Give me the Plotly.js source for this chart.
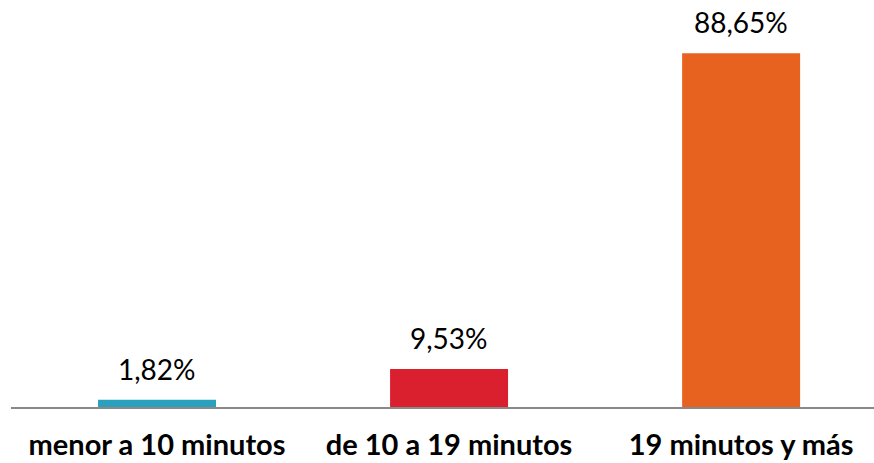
<!DOCTYPE html>
<html>
<head>
<meta charset="utf-8">
<script src="https://cdn.plot.ly/plotly-3.0.1.min.js"></script>
<style>html,body{margin:0;padding:0;background:#fff;}#chart{width:874px;height:463px;}</style>
</head>
<body>
<div id="chart"></div>
<script>
const categories = ["menor a 10 minutos", "de 10 a 19 minutos", "19 minutos y más"];
const values = [1.82, 9.53, 88.65];
const barColors = ["#2B9FBE", "#DA1F2E", "#E8621F"];

const labels = values.map(v => v.toFixed(2).replace('.', ',') + '%');

const trace = {
  type: 'bar',
  x: categories,
  y: values,
  marker: {color: barColors},
  width: 0.404,
  hoverinfo: 'none'
};

const annotations = categories.map((c, i) => ({
  x: c, y: values[i], xref: 'x', yref: 'y',
  text: labels[i], showarrow: false,
  yanchor: 'bottom', yshift: 12,
  font: {family: 'Lato, sans-serif', size: 28, color: '#000'}
}));

const layout = {
  width: 874, height: 463,
  margin: {l: 11, r: 0, t: 10, b: 56},
  paper_bgcolor: '#fff', plot_bgcolor: '#fff',
  showlegend: false,
  annotations: annotations,
  xaxis: {
    type: 'category',
    range: [-0.5, 2.455],
    showline: true, linecolor: '#898989', linewidth: 2,
    showgrid: false, zeroline: false,
    ticks: '', ticklabelstandoff: 11,
    tickfont: {family: 'Lato, sans-serif', size: 29, color: '#000', weight: 'bold'}
  },
  yaxis: {
    range: [0, 99.5],
    visible: false, showgrid: false, zeroline: false
  }
};

Plotly.newPlot('chart', [trace], layout, {staticPlot: true});
</script>
</body>
</html>
